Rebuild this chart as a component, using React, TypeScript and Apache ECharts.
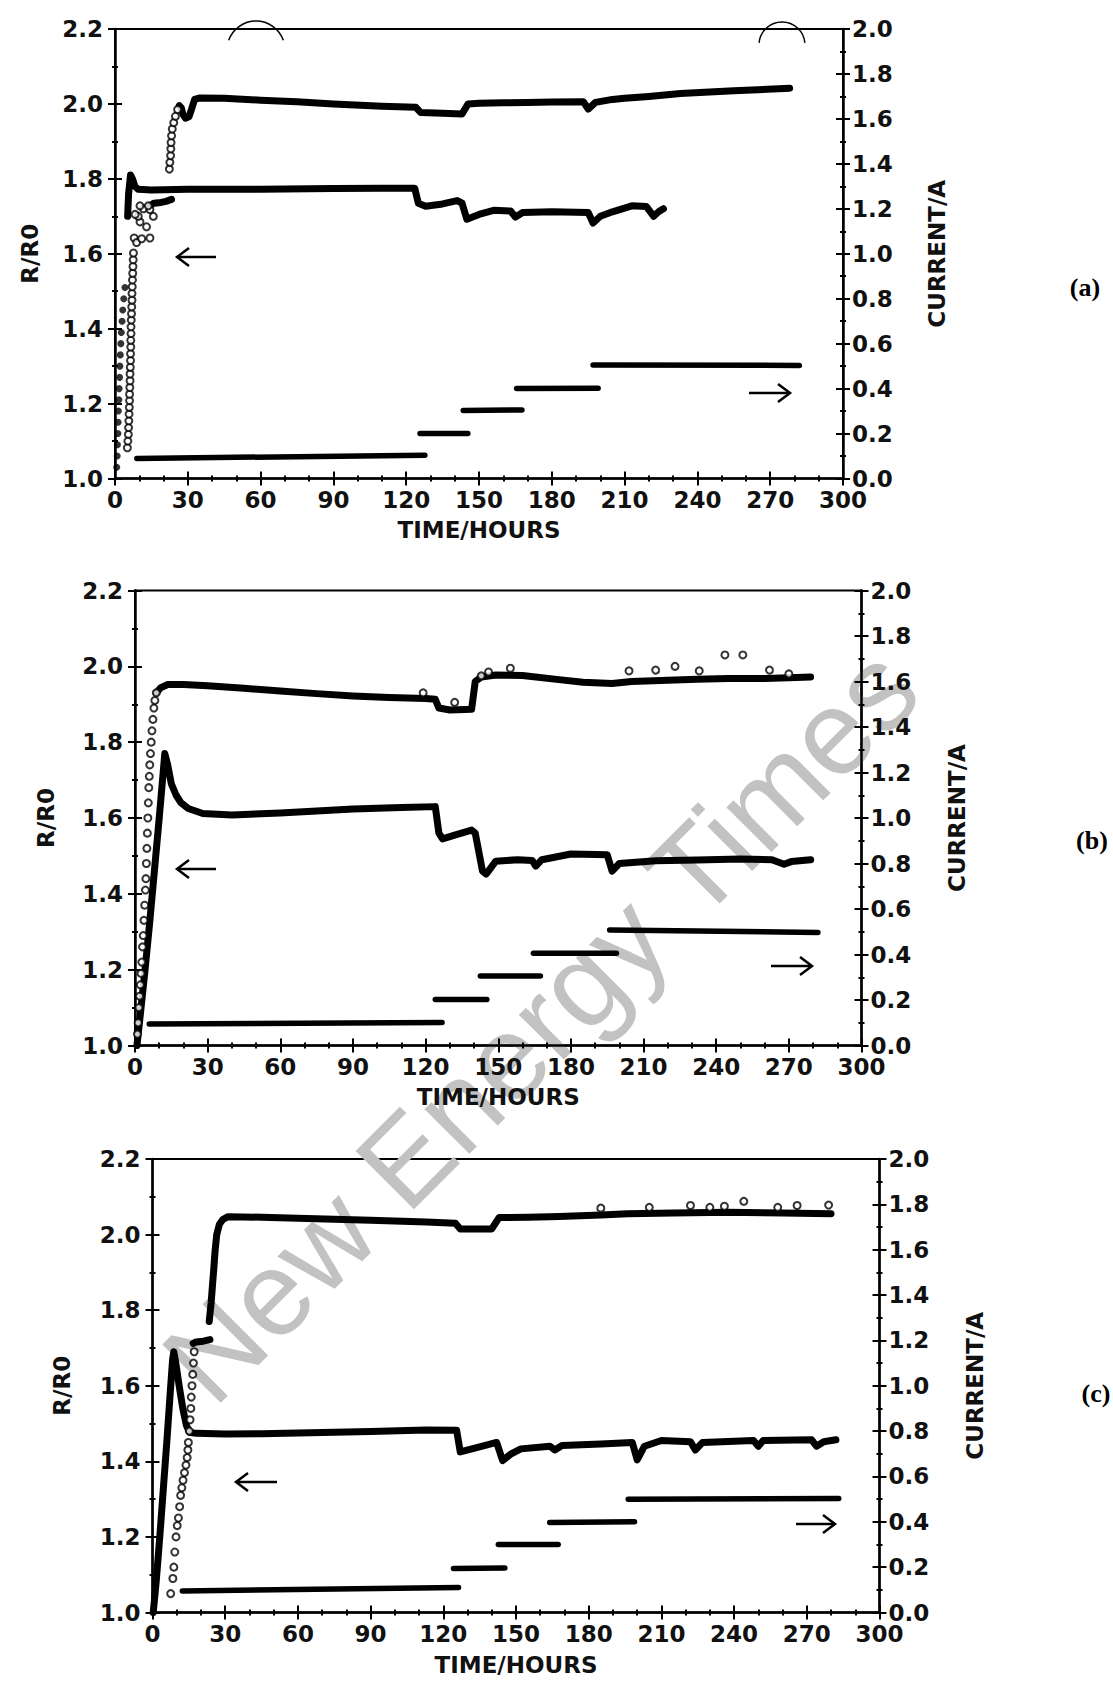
import React, { useEffect, useRef } from "react";
import * as echarts from "echarts";

// ---------------- DATA ----------------
const xTicks = [0, 30, 60, 90, 120, 150, 180, 210, 240, 270, 300];
const panelLabels = ["(a)", "(b)", "(c)"];

// Panel (a)
const aUpperRise = [
  [5.1, 1.082], [5.3, 1.1], [5.5, 1.118], [5.6, 1.136], [5.7, 1.154], [5.8, 1.172], [5.9, 1.19],
  [6.0, 1.208], [6.0, 1.225], [6.1, 1.243], [6.2, 1.261], [6.2, 1.279], [6.3, 1.297], [6.4, 1.315],
  [6.4, 1.333], [6.5, 1.351], [6.5, 1.369], [6.6, 1.387], [6.6, 1.405], [6.7, 1.423], [6.8, 1.44],
  [6.9, 1.458], [7.0, 1.476], [7.0, 1.494], [7.1, 1.512], [7.2, 1.53], [7.3, 1.548], [7.4, 1.566],
  [7.5, 1.584], [7.6, 1.602], [7.9, 1.642], [8.9, 1.63], [11.0, 1.64], [14.4, 1.642], [13.0, 1.672],
  [10.3, 1.685], [15.8, 1.7], [9.6, 1.7], [11.7, 1.72], [14.4, 1.718], [8.3, 1.705], [10.3, 1.728],
  [13.7, 1.728],
];
const aUpperSeg = [[14.4, 1.728], [16, 1.735], [19, 1.737], [21, 1.74], [23.3, 1.745]];
const aUpperJump = [
  [22.4, 1.826], [22.6, 1.844], [22.9, 1.862], [23.0, 1.88], [23.1, 1.897], [23.3, 1.915],
  [23.6, 1.933], [24.2, 1.95], [24.9, 1.967], [25.8, 1.985],
];
const aUpper = [
  [26.5, 1.995], [27.3, 1.99], [28, 1.972], [29, 1.962], [30.5, 1.966], [31.5, 1.985], [32.8, 2.012],
  [35, 2.016], [45, 2.015], [60, 2.01], [75, 2.006], [90, 2.0], [110, 1.994], [124, 1.991],
  [126, 1.977], [135, 1.975], [143, 1.973], [145.5, 2.0], [150, 2.002], [160, 2.003], [170, 2.004],
  [180, 2.005], [193, 2.006], [195, 1.986], [198, 2.004], [205, 2.012], [210, 2.015], [220, 2.02],
  [233, 2.028], [245, 2.032], [255, 2.035], [265, 2.038], [278, 2.042],
];
const aLowerRise = [
  [0.7, 1.03], [0.9, 1.06], [1.0, 1.09], [1.2, 1.12], [1.3, 1.15], [1.4, 1.18], [1.6, 1.21],
  [1.7, 1.24], [1.9, 1.27], [2.0, 1.3], [2.2, 1.33], [2.4, 1.36], [2.6, 1.39], [2.9, 1.42],
  [3.2, 1.45], [3.6, 1.48], [4.1, 1.51],
];
const aLower = [
  [5.2, 1.7], [5.6, 1.76], [6.4, 1.81], [7.2, 1.8], [8.2, 1.78], [9.5, 1.772], [15, 1.77],
  [30, 1.772], [60, 1.772], [90, 1.774], [110, 1.775], [123.5, 1.775], [125, 1.735], [128, 1.727],
  [135, 1.733], [141, 1.742], [143, 1.735], [145, 1.692], [150, 1.705], [156, 1.716], [163, 1.714],
  [165, 1.698], [168, 1.71], [180, 1.712], [195, 1.71], [197, 1.682], [200, 1.7], [205, 1.712],
  [213, 1.728], [219, 1.726], [222, 1.7], [224, 1.712], [226, 1.72],
];
// current steps: [tStart, iStart, tEnd, iEnd]
const aSteps = [
  [9, 0.089, 127.7, 0.104], [125.7, 0.2, 145.4, 0.2], [143.5, 0.303, 167.7, 0.305],
  [165.5, 0.4, 199.1, 0.402], [197, 0.505, 282, 0.503],
];

// Panel (b)
const bUpperRise = [
  [1.0, 1.03], [1.3, 1.06], [1.6, 1.1], [1.9, 1.13], [2.2, 1.16], [2.5, 1.19], [2.8, 1.22],
  [3.1, 1.26], [3.4, 1.29], [3.7, 1.33], [4.0, 1.37], [4.3, 1.41], [4.5, 1.44], [4.7, 1.48],
  [4.9, 1.52], [5.1, 1.56], [5.3, 1.6], [5.5, 1.64], [5.7, 1.68], [5.9, 1.71], [6.1, 1.74],
  [6.4, 1.77], [6.7, 1.8], [7.0, 1.83], [7.4, 1.86], [7.8, 1.89], [8.2, 1.91], [8.8, 1.93],
];
const bUpper = [
  [8.8, 1.93], [10.5, 1.943], [13.5, 1.952], [20, 1.952], [30, 1.949], [45, 1.942], [60, 1.935],
  [75, 1.928], [90, 1.922], [105, 1.918], [120, 1.915], [124, 1.913], [125.5, 1.89], [130, 1.885],
  [139, 1.887], [140.5, 1.96], [143, 1.972], [149, 1.977], [160, 1.976], [175, 1.965], [185, 1.958],
  [197, 1.955], [205, 1.96], [220, 1.963], [232, 1.966], [245, 1.968], [260, 1.968], [270, 1.97],
  [279, 1.972],
];
const bOutliers = [
  [119, 1.93], [132, 1.905], [143, 1.975], [146, 1.985], [155, 1.995], [204, 1.988], [215, 1.99],
  [223, 2.0], [233, 1.988], [243.6, 2.03], [251, 2.03], [262, 1.99], [270, 1.98],
];
const bLower = [
  [0.8, 1.0], [2, 1.07], [4, 1.19], [6, 1.32], [8, 1.46], [10, 1.6], [11.5, 1.71], [12.3, 1.77],
  [13.5, 1.74], [15, 1.69], [17, 1.66], [19, 1.64], [22, 1.625], [28, 1.612], [40, 1.608],
  [60, 1.613], [90, 1.624], [110, 1.628], [124, 1.63], [125.5, 1.56], [127, 1.545], [132, 1.555],
  [139, 1.568], [140.5, 1.56], [143.5, 1.46], [145, 1.452], [149, 1.486], [158, 1.49], [164, 1.488],
  [165.5, 1.473], [168, 1.49], [180, 1.505], [195, 1.503], [197, 1.46], [200, 1.48], [215, 1.487],
  [232, 1.489], [250, 1.492], [263, 1.49], [268, 1.478], [271, 1.485], [279, 1.49],
];
const bSteps = [
  [5.9, 0.095, 126.8, 0.101], [124, 0.202, 145.3, 0.202], [142.6, 0.305, 167.4, 0.305],
  [164.5, 0.405, 198.8, 0.405], [196, 0.508, 282, 0.497],
];

// Panel (c)
const cLower = [
  [0.3, 1.0], [1.5, 1.08], [3, 1.2], [4.5, 1.33], [6, 1.46], [7.3, 1.58], [8.3, 1.67], [8.8, 1.69],
  [9.6, 1.66], [11, 1.6], [12.5, 1.54], [14, 1.495], [15.2, 1.477], [18, 1.474], [30, 1.472],
  [45, 1.473], [60, 1.475], [90, 1.479], [113, 1.483], [125.5, 1.482], [127, 1.425], [133, 1.435],
  [142, 1.45], [144.5, 1.402], [148, 1.42], [152, 1.433], [164, 1.44], [166, 1.43], [169, 1.442],
  [185, 1.446], [198, 1.45], [200, 1.404], [203, 1.44], [210, 1.455], [222, 1.452], [224, 1.43],
  [227, 1.45], [248, 1.455], [250, 1.44], [252, 1.455], [272, 1.457], [274, 1.44], [277, 1.452],
  [282, 1.457],
];
const cUpperRise = [
  [7.5, 1.05], [8.4, 1.09], [8.8, 1.12], [9.2, 1.16], [9.7, 1.2], [10.2, 1.23], [10.7, 1.25],
  [11.2, 1.28], [11.6, 1.31], [12.1, 1.33], [12.6, 1.35], [13.2, 1.37], [13.8, 1.39], [14.3, 1.41],
  [14.6, 1.43], [14.8, 1.45], [15.2, 1.48], [15.5, 1.51], [15.8, 1.54], [16.0, 1.57], [16.3, 1.6],
  [16.6, 1.63], [16.9, 1.66], [17.2, 1.69],
];
const cUpperSeg = [[16.8, 1.712], [18, 1.716], [21, 1.718], [23.7, 1.722]];
const cUpper = [
  [23.4, 1.77], [24.2, 1.82], [24.8, 1.87], [25.3, 1.91], [25.8, 1.955], [26.5, 2.0], [27.6, 2.027],
  [29, 2.04], [31, 2.047], [45, 2.046], [60, 2.043], [90, 2.038], [113, 2.033], [125, 2.03],
  [127, 2.015], [140, 2.015], [143, 2.045], [155, 2.046], [168, 2.048], [185, 2.052], [196, 2.055],
  [215, 2.057], [237, 2.059], [260, 2.057], [280, 2.055],
];
const cOutliers = [
  [185, 2.07], [205, 2.072], [222, 2.077], [230, 2.072], [236, 2.075], [244, 2.088], [258, 2.072],
  [266, 2.077], [279, 2.078],
];
const cSteps = [
  [12.3, 0.095, 126.3, 0.11], [124.2, 0.194, 145.4, 0.196], [142.7, 0.3, 167.4, 0.3],
  [163.9, 0.397, 198.9, 0.4], [196.3, 0.5, 283.2, 0.503],
];

// ---------------- LAYOUT ----------------
const FONT = "DejaVu Sans";
const layout = [
  { grid: { left: 115, top: 29, width: 728, height: 449.5 }, gapL: 74, gapR: 82, gapB: 40,
    label: [1085, 287], arrowL: [177, 216, 257], arrowR: [749, 790, 393] },
  { grid: { left: 135, top: 590.5, width: 726.5, height: 455 }, gapL: 78, gapR: 84, gapB: 40,
    label: [1092, 840], arrowL: [177, 216, 869], arrowR: [771, 812, 966] },
  { grid: { left: 152.5, top: 1159, width: 727, height: 453.5 }, gapL: 79, gapR: 84, gapB: 41,
    label: [1096, 1393], arrowL: [236, 277, 1482], arrowR: [796, 835, 1524] },
];

const panelData = [
  { rLines: [aUpperSeg, aUpper, aLower], rCircles: [aUpperRise, aUpperJump], rDots: [aLowerRise], steps: aSteps },
  { rLines: [bUpper, bLower], rCircles: [bUpperRise, bOutliers], rDots: [], steps: bSteps },
  { rLines: [cUpperSeg, cUpper, cLower], rCircles: [cUpperRise, cOutliers], rDots: [], steps: cSteps },
];

const axisLineStyle = { color: "#000", width: 2.5 };
const tickLineStyle = { color: "#000", width: 2 };
const textStyle = { fontFamily: FONT, fontSize: 23, fontWeight: "bold", color: "#111" };

function buildOption() {
  const grid: any[] = [];
  const xAxis: any[] = [];
  const yAxis: any[] = [];
  const series: any[] = [];
  const graphic: any[] = [];

  layout.forEach((L, i) => {
    grid.push({ ...L.grid, show: true, borderColor: "#000", borderWidth: 2, backgroundColor: "transparent" });
    const xBase = {
      gridIndex: i, type: "value", min: xTicks[0], max: xTicks[xTicks.length - 1],
      interval: xTicks[1] - xTicks[0], position: "bottom", splitLine: { show: false },
    };
    xAxis.push({
      ...xBase,
      axisLine: { show: true, lineStyle: axisLineStyle },
      axisTick: { show: true, inside: false, length: 7, lineStyle: tickLineStyle },
      minorTick: { show: true, splitNumber: 3, length: 3, lineStyle: tickLineStyle },
      axisLabel: { ...textStyle, margin: 10 },
      name: "TIME/HOURS", nameLocation: "middle", nameGap: L.gapB, nameTextStyle: { ...textStyle },
    });
    xAxis.push({
      ...xBase,
      axisLine: { show: false },
      axisTick: { show: true, inside: true, length: 7, lineStyle: tickLineStyle },
      minorTick: { show: true, splitNumber: 3, length: 3, lineStyle: tickLineStyle },
      axisLabel: { show: false },
    });
    const yLeft = { gridIndex: i, type: "value", min: 1.0, max: 2.2, interval: 0.2, position: "left", splitLine: { show: false } };
    const yRight = { gridIndex: i, type: "value", min: 0, max: 2.0, interval: 0.2, position: "right", splitLine: { show: false } };
    yAxis.push({
      ...yLeft,
      axisLine: { show: true, lineStyle: axisLineStyle },
      axisTick: { show: true, inside: false, length: 7, lineStyle: tickLineStyle },
      minorTick: { show: true, splitNumber: 2, length: 3, lineStyle: tickLineStyle },
      axisLabel: { ...textStyle, margin: 12, formatter: (v: number) => v.toFixed(1) },
      name: "R/R0", nameLocation: "middle", nameGap: L.gapL, nameRotate: 90, nameTextStyle: { ...textStyle },
    });
    yAxis.push({
      ...yLeft,
      axisLine: { show: false },
      axisTick: { show: true, inside: true, length: 7, lineStyle: tickLineStyle },
      minorTick: { show: true, splitNumber: 2, length: 3, lineStyle: tickLineStyle },
      axisLabel: { show: false },
    });
    yAxis.push({
      ...yRight,
      axisLine: { show: true, lineStyle: axisLineStyle },
      axisTick: { show: true, inside: false, length: 7, lineStyle: tickLineStyle },
      minorTick: { show: true, splitNumber: 2, length: 3, lineStyle: tickLineStyle },
      axisLabel: { ...textStyle, margin: 9, formatter: (v: number) => v.toFixed(1) },
      name: "CURRENT/A", nameLocation: "middle", nameGap: L.gapR, nameRotate: 90, nameTextStyle: { ...textStyle },
    });
    yAxis.push({
      ...yRight,
      axisLine: { show: false },
      axisTick: { show: true, inside: true, length: 7, lineStyle: tickLineStyle },
      minorTick: { show: true, splitNumber: 2, length: 3, lineStyle: tickLineStyle },
      axisLabel: { show: false },
    });

    const xi = i * 2;
    const yL = i * 4;
    const yR = i * 4 + 2;
    const D = panelData[i];
    D.rLines.forEach((d) => {
      series.push({
        type: "line", xAxisIndex: xi, yAxisIndex: yL, data: d, symbol: "none", z: 4,
        lineStyle: { color: "#000", width: 7, cap: "round", join: "round" },
      });
    });
    D.rCircles.forEach((d) => {
      series.push({
        type: "scatter", xAxisIndex: xi, yAxisIndex: yL, data: d, symbol: "emptyCircle", symbolSize: 7, z: 5,
        itemStyle: { color: "#000", borderColor: "#000", borderWidth: 2 },
      });
    });
    D.rDots.forEach((d) => {
      series.push({
        type: "scatter", xAxisIndex: xi, yAxisIndex: yL, data: d, symbol: "circle", symbolSize: 7, z: 5,
        itemStyle: { color: "#000" },
      });
    });
    D.steps.forEach((s) => {
      series.push({
        type: "line", xAxisIndex: xi, yAxisIndex: yR, data: [[s[0], s[1]], [s[2], s[3]]], symbol: "none", z: 4,
        lineStyle: { color: "#000", width: 5.5, cap: "round" },
      });
    });

    // arrows (annotations)
    const [l0, l1, ly] = L.arrowL;
    graphic.push({ type: "line", shape: { x1: l0, y1: ly, x2: l1, y2: ly }, style: { stroke: "#000", lineWidth: 2.5 }, z: 10 });
    graphic.push({ type: "polyline", shape: { points: [[l0 + 12, ly - 9], [l0, ly], [l0 + 12, ly + 9]] }, style: { stroke: "#000", fill: "none", lineWidth: 2.5 }, z: 10 });
    const [r0, r1, ry] = L.arrowR;
    graphic.push({ type: "line", shape: { x1: r0, y1: ry, x2: r1, y2: ry }, style: { stroke: "#000", lineWidth: 2.5 }, z: 10 });
    graphic.push({ type: "polyline", shape: { points: [[r1 - 12, ry - 9], [r1, ry], [r1 - 12, ry + 9]] }, style: { stroke: "#000", fill: "none", lineWidth: 2.5 }, z: 10 });

    graphic.push({
      type: "text", x: L.label[0], y: L.label[1], z: 10,
      style: { text: panelLabels[i], fontFamily: "Liberation Serif", fontWeight: "bold", fontSize: 26, fill: "#000", align: "center", verticalAlign: "middle" },
    });
  });

  // scan artefacts on top frame of (a)
  graphic.push({ type: "arc", shape: { cx: 256, cy: 50, r: 29, startAngle: -2.8, endAngle: -0.34, clockwise: true }, style: { stroke: "#000", fill: "none", lineWidth: 1.5 }, z: 10 });
  graphic.push({ type: "arc", shape: { cx: 782, cy: 45, r: 23, startAngle: -3.05, endAngle: -0.09, clockwise: true }, style: { stroke: "#000", fill: "none", lineWidth: 1.5 }, z: 10 });

  // watermark
  graphic.push({
    type: "text", x: 540, y: 1024, rotation: Math.PI / 4, z: 0,
    style: { text: "New Energy Times", fontFamily: "Liberation Sans", fontSize: 120, fill: "#c2c2c2", align: "center", verticalAlign: "middle" },
  });

  return { animation: false, backgroundColor: "#fff", grid, xAxis, yAxis, series, graphic };
}

export default function App() {
  const ref = useRef<HTMLDivElement>(null);
  useEffect(() => {
    const chart = echarts.init(ref.current!, null, { renderer: "svg" });
    chart.setOption(buildOption() as any);
    return () => chart.dispose();
  }, []);
  return (
    <div
      ref={ref}
      style={{ position: "absolute", left: 0, top: 0, width: 1113, height: 1685, background: "#fff" }}
    />
  );
}
